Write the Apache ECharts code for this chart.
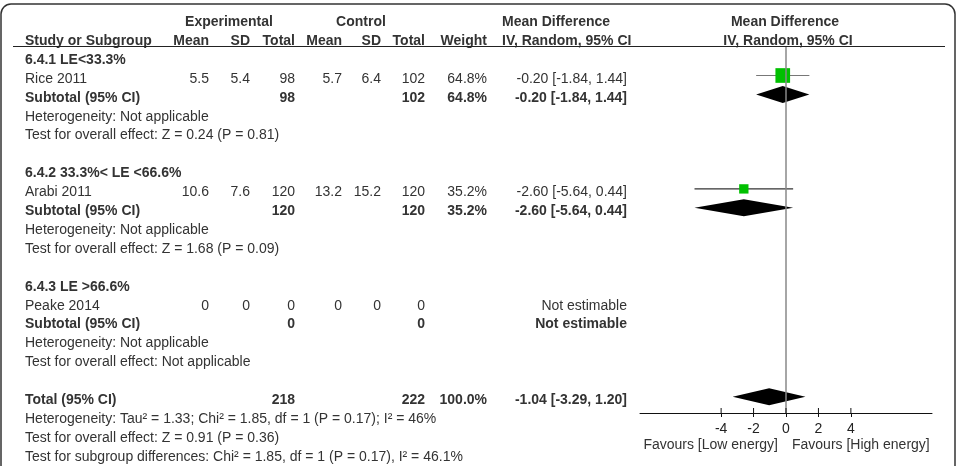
<!DOCTYPE html>
<html>
<head>
<meta charset="UTF-8">
<title>Forest plot</title>
<script src="https://cdn.jsdelivr.net/npm/echarts@6/dist/echarts.min.js"></script>
<style>
    body { margin: 0; padding: 0; background: #fff; }
    #main { width: 961px; height: 466px; }
</style>
</head>
<body>
<div id="main"></div>
<script>
// ---- data ----
const tickValues = [-4, -2, 0, 2, 4];

// text rows (row index -> label in first column)
const labelRows  = [0, 1, 2, 3, 4, 6, 7, 8, 9, 10, 12, 13, 14, 15, 16, 18, 19, 20, 21];
const labelTexts = [
    '6.4.1 LE<33.3%',
    'Rice 2011',
    'Subtotal (95% CI)',
    'Heterogeneity: Not applicable',
    'Test for overall effect: Z = 0.24 (P = 0.81)',
    '6.4.2 33.3%< LE <66.6%',
    'Arabi 2011',
    'Subtotal (95% CI)',
    'Heterogeneity: Not applicable',
    'Test for overall effect: Z = 1.68 (P = 0.09)',
    '6.4.3 LE >66.6%',
    'Peake 2014',
    'Subtotal (95% CI)',
    'Heterogeneity: Not applicable',
    'Test for overall effect: Not applicable',
    'Total (95% CI)',
    'Heterogeneity: Tau² = 1.33; Chi² = 1.85, df = 1 (P = 0.17); I² = 46%',
    'Test for overall effect: Z = 0.91 (P = 0.36)',
    'Test for subgroup differences: Chi² = 1.85, df = 1 (P = 0.17), I² = 46.1%'
];
const boldRows = [0, 2, 6, 8, 12, 14, 18];

// numeric table columns
const dataRows   = [1, 2, 7, 8, 13, 14, 18];
const expMean    = ['5.5', '', '10.6', '', '0', '', ''];
const expSD      = ['5.4', '', '7.6', '', '0', '', ''];
const expTotal   = ['98', '98', '120', '120', '0', '0', '218'];
const ctlMean    = ['5.7', '', '13.2', '', '0', '', ''];
const ctlSD      = ['6.4', '', '15.2', '', '0', '', ''];
const ctlTotal   = ['102', '102', '120', '120', '0', '0', '222'];
const weightText = ['64.8%', '64.8%', '35.2%', '35.2%', '', '', '100.0%'];
const effectText = ['-0.20 [-1.84, 1.44]', '-0.20 [-1.84, 1.44]', '-2.60 [-5.64, 0.44]',
                    '-2.60 [-5.64, 0.44]', 'Not estimable', 'Not estimable', '-1.04 [-3.29, 1.20]'];

// individual studies
const studyRows   = [1, 7];
const studyMD     = [-0.20, -2.60];
const studyLo     = [-1.84, -5.64];
const studyHi     = [1.44, 0.44];
const studyWeight = [64.8, 35.2];

// pooled estimates (diamonds)
const poolRows = [2, 8, 18];
const poolMD   = [-0.20, -2.60, -1.04];
const poolLo   = [-1.84, -5.64, -3.29];
const poolHi   = [1.44, 0.44, 1.20];

// ---- layout ----
const ROW0 = 60, ROWH = 18.9;
const GRID_TOP = 47, GRID_BOTTOM_Y = 413;
const FONT = '"Liberation Sans", Arial, sans-serif';
const FS = 14;
const TXT = '#333';
const MARK_SHIFT = -0.18;

const chart = echarts.init(document.getElementById('main'));

const studyData = studyRows.map((r, i) => [studyMD[i], studyLo[i], studyHi[i], r + MARK_SHIFT, studyWeight[i]]);
const poolData = poolRows.map((r, i) => [poolMD[i], poolLo[i], poolHi[i], r + MARK_SHIFT]);
const yMax = (GRID_BOTTOM_Y - ROW0) / ROWH;

function rowY(k) { return ROW0 + ROWH * k; }

function txt(text, x, y, align, bold) {
    return {
        type: 'text', silent: true,
        style: {
            text: text, x: x, y: y, align: align || 'left', verticalAlign: 'middle',
            font: (bold ? 'bold ' : '') + FS + 'px ' + FONT, fill: TXT
        }
    };
}

const graphics = [];
// frame
graphics.push({ type: 'rect', silent: true, shape: { x: 1, y: 4, width: 954, height: 480, r: 10 },
    style: { fill: 'none', stroke: '#333', lineWidth: 1.5 } });
// header
graphics.push(txt('Experimental', 229, 22, 'center', true));
graphics.push(txt('Control', 361, 22, 'center', true));
graphics.push(txt('Mean Difference', 502, 22, 'left', true));
graphics.push(txt('Mean Difference', 785, 22, 'center', true));
graphics.push(txt('Study or Subgroup', 25, 41, 'left', true));
const headCols = ['Mean', 'SD', 'Total', 'Mean', 'SD', 'Total', 'Weight'];
const colRight = [209, 250, 295, 342, 381, 425, 487, 627];
headCols.forEach((h, i) => graphics.push(txt(h, colRight[i], 41, 'right', true)));
graphics.push(txt('IV, Random, 95% CI', 502, 41, 'left', true));
graphics.push(txt('IV, Random, 95% CI', 788, 41, 'center', true));
graphics.push({ type: 'line', silent: true, shape: { x1: 13, y1: 46.5, x2: 945, y2: 46.5 },
    style: { stroke: '#222', lineWidth: 1.2 } });
// first column
labelRows.forEach((k, i) => graphics.push(txt(labelTexts[i], 25, rowY(k), 'left', boldRows.includes(k))));
// numeric columns
const cols = [expMean, expSD, expTotal, ctlMean, ctlSD, ctlTotal, weightText, effectText];
dataRows.forEach((k, i) => {
    const bold = boldRows.includes(k);
    cols.forEach((c, j) => { if (c[i]) graphics.push(txt(c[i], colRight[j], rowY(k), 'right', bold)); });
});

const option = {
    animation: false,
    grid: { left: 640, right: 29, top: GRID_TOP, bottom: 466 - GRID_BOTTOM_Y },
    xAxis: {
        type: 'value', min: -9, max: 9,
        axisLine: { onZero: false, lineStyle: { color: '#111', width: 1 } },
        axisTick: { show: true, customValues: tickValues, length: 4, lineStyle: { color: '#111' } },
        axisLabel: { customValues: tickValues, color: '#222', fontSize: FS, fontFamily: FONT, margin: 9 },
        splitLine: { show: false }
    },
    yAxis: {
        type: 'value', inverse: true, show: false,
        min: (GRID_TOP - ROW0) / ROWH, max: yMax,
        splitLine: { show: false }
    },
    series: [{
        type: 'custom', name: 'pooled', data: poolData, encode: { x: [0, 1, 2], y: 3 },
        renderItem: function (params, api) {
            const c = api.coord([api.value(0), api.value(3)]);
            const l = api.coord([api.value(1), api.value(3)]);
            const h = api.coord([api.value(2), api.value(3)]);
            return { type: 'polygon', shape: { points: [[l[0], c[1]], [c[0], c[1] - 8.5], [h[0], c[1]], [c[0], c[1] + 8.5]] },
                style: { fill: '#000' } };
        },
        markLine: {
            silent: true, symbol: 'none', label: { show: false },
            lineStyle: { color: '#888', width: 1.5, type: 'solid' },
            data: [{ xAxis: 0 }]
        },
        z: 3
    }, {
        type: 'custom', name: 'studies', data: studyData, encode: { x: [0, 1, 2], y: 3 },
        renderItem: function (params, api) {
            const c = api.coord([api.value(0), api.value(3)]);
            const l = api.coord([api.value(1), api.value(3)]);
            const h = api.coord([api.value(2), api.value(3)]);
            const s = 3 + api.value(4) * 0.18;
            return { type: 'group', children: [
                { type: 'line', shape: { x1: l[0], y1: l[1], x2: h[0], y2: h[1] },
                  style: { stroke: params.dataIndex === 0 ? '#777' : '#333', lineWidth: 1.2 } },
                { type: 'rect', shape: { x: c[0] - s / 2, y: c[1] - s / 2, width: s, height: s },
                  style: { fill: '#00c000' } }
            ] };
        },
        z: 4
    }, {
        // upper half of the tick marks, which cross the axis line
        type: 'custom', name: 'ticksUp', silent: true, clip: false,
        data: tickValues.map(v => [v, yMax]), encode: { x: 0, y: 1 },
        renderItem: function (params, api) {
            const p = api.coord([api.value(0), api.value(1)]);
            return { type: 'line', shape: { x1: p[0], y1: p[1], x2: p[0], y2: p[1] - 5 },
                style: { stroke: '#111', lineWidth: 1 } };
        },
        z: 5
    }],
    graphic: graphics
};
chart.setOption(option);

// favours labels placed around the zero point of the axis
const x0 = chart.convertToPixel({ xAxisIndex: 0 }, 0);
chart.setOption({ graphic: graphics.concat([
    txt('Favours [Low energy]', x0 - 8, 445, 'right', false),
    txt('Favours [High energy]', x0 + 6, 445, 'left', false)
]) });
</script>
</body>
</html>
